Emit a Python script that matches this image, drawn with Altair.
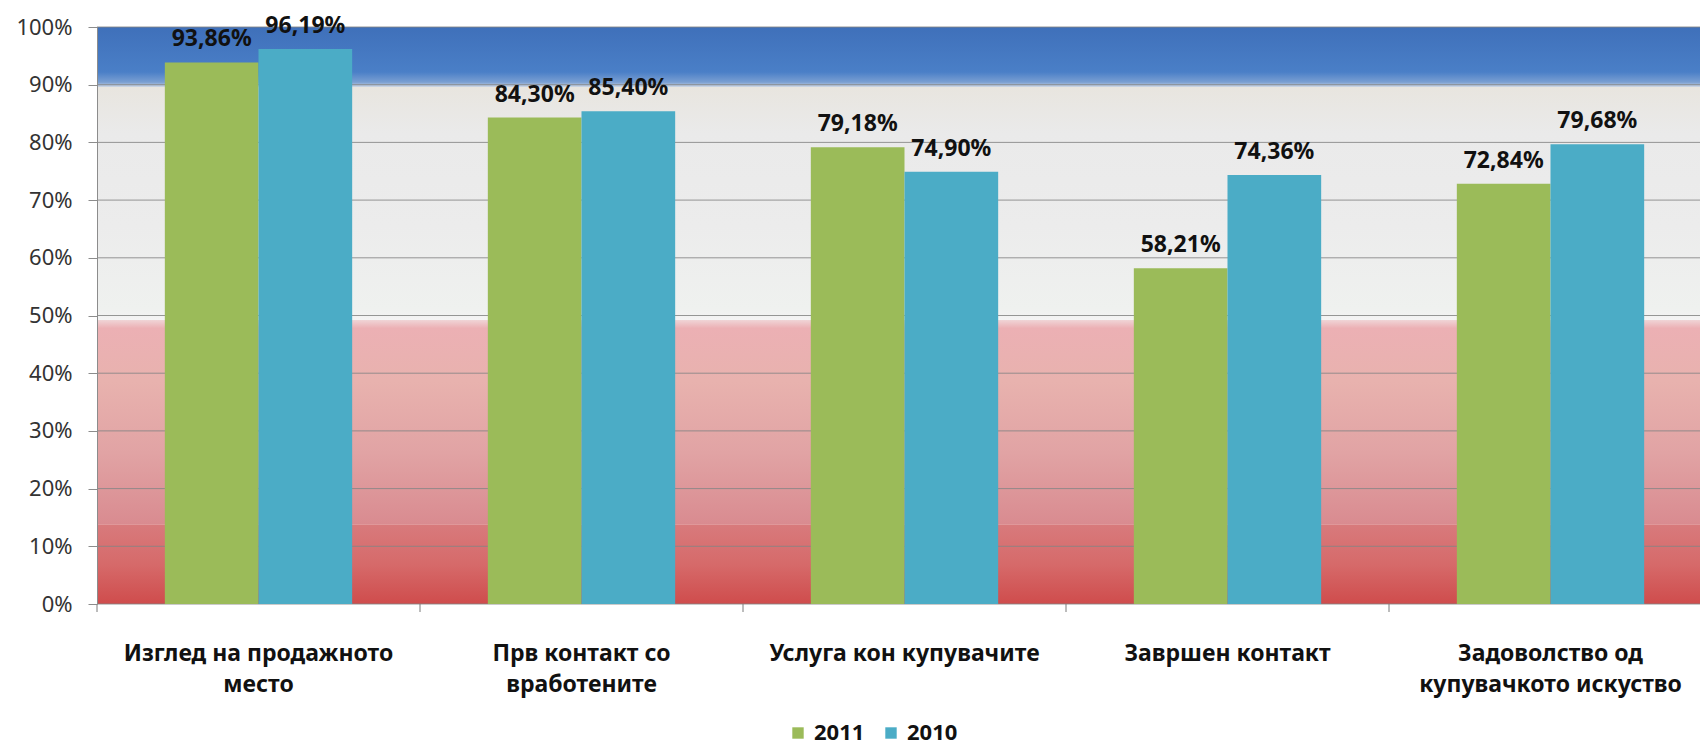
import altair as alt
import pandas as pd

# ---- data ----
categories = [
    "Изглед на продажното\nместо",
    "Прв контакт со\nвработените",
    "Услуга кон купувачите",
    "Завршен контакт",
    "Задоволство од\nкупувачкото искуство",
]
years = ["2011", "2010"]
values_2011 = [93.86, 84.30, 79.18, 58.21, 72.84]
values_2010 = [96.19, 85.40, 74.90, 74.36, 79.68]
y_ticks = list(range(0, 101, 10))
# background colour bands (in % of the value axis)
band_low = [0.0, 13.8, 49.2, 89.6]
band_high = [13.8, 49.2, 89.6, 100.0]

# ---- layout / style ----
W, H = 1603, 577
RANGE_W = 1615
PAD_INNER, PAD_OUTER = 0.42, 0.21
STEP = RANGE_W / 5
FONT = "Noto Sans"
GREEN, BLUE = "#9bbb59", "#4bacc6"

rows = []
for c, a, b in zip(categories, values_2011, values_2010):
    for yr, v in ((years[0], a), (years[1], b)):
        rows.append({"cat": c, "year": yr, "value": v,
                     "label": f"{v:.2f}".replace(".", ",") + "%"})
df = pd.DataFrame(rows)

yscale = alt.Scale(domain=[0, 100], nice=False, zero=True)
xscale = alt.Scale(range=[0, RANGE_W], paddingInner=PAD_INNER, paddingOuter=PAD_OUTER)
y_axis = alt.Axis(values=y_ticks, labelExpr="datum.value + '%'", title=None,
                  grid=False, domainColor="#8c8c8c", tickColor="#8c8c8c",
                  tickSize=9, labelFont=FONT, labelFontSize=22,
                  labelColor="#333333", labelPadding=16, zindex=1)


def grad(stops):
    return alt.LinearGradient(
        gradient="linear",
        stops=[alt.GradientStop(color=c, offset=o) for o, c in stops],
        x1=0, x2=0, y1=0, y2=1,
    )


band_gradients = [
    [(0, "#d87a7c"), (0.5, "#d66a6a"), (1, "#cf4c4c")],
    [(0, "#f0d4d6"), (0.04, "#ecb0b4"), (0.3, "#e8b2ae"), (0.65, "#e1a3a4"), (1, "#d98b90")],
    [(0, "#e8e5df"), (0.2, "#eaeaea"), (0.6, "#ececec"), (0.95, "#eff1ef"), (1, "#f4f4f4")],
    [(0, "#3f70ba"), (0.75, "#4a7fc7"), (0.92, "#7a9fd2"), (1, "#d0d8e4")],
]

layers = []
for lo, hi, g in zip(band_low, band_high, band_gradients):
    bdf = pd.DataFrame({"value": [lo], "hi": [hi]})
    layers.append(
        alt.Chart(bdf).mark_rect(color=grad(g)).encode(
            x=alt.value(0), x2=alt.value(W),
            y=alt.Y("value:Q", scale=yscale, axis=y_axis), y2="hi:Q",
        )
    )

grid = alt.Chart(pd.DataFrame({"value": y_ticks})).mark_rule(
    color="#858585", strokeWidth=1, opacity=0.85
).encode(
    y=alt.Y("value:Q", scale=yscale, axis=y_axis),
    x=alt.value(0), x2=alt.value(W),
)
layers.append(grid)

bars = alt.Chart(df).mark_bar().encode(
    x=alt.X("cat:N", sort=categories, scale=xscale, title=None,
            axis=alt.Axis(labelAngle=0, ticks=False, domain=False,
                          labelExpr="split(datum.label, '\\n')",
                          labelFont=FONT, labelFontSize=23, labelFontWeight="bold",
                          labelColor="#111111", labelPadding=38, labelLineHeight=31,
                          labelLimit=400)),
    xOffset=alt.XOffset("year:N", sort=years),
    y=alt.Y("value:Q", scale=yscale, axis=y_axis),
    color=alt.Color("year:N", sort=years,
                    scale=alt.Scale(domain=years, range=[GREEN, BLUE]),
                    legend=alt.Legend(title=None, orient="none", direction="horizontal",
                                      legendX=690, legendY=695, symbolType="square",
                                      symbolSize=130, symbolStrokeWidth=0,
                                      labelFont=FONT, labelFontSize=22,
                                      labelFontWeight="bold", labelColor="#111111",
                                      columnPadding=15, labelOffset=5, padding=0)),
)
layers.append(bars)

labels = alt.Chart(df).mark_text(
    baseline="alphabetic", align="center", dy=-16,
    font=FONT, fontSize=23, fontWeight="bold", color="#111111",
).encode(
    x=alt.X("cat:N", sort=categories),
    xOffset=alt.XOffset("year:N", sort=years),
    y=alt.Y("value:Q", scale=yscale, axis=y_axis),
    text="label:N",
)
layers.append(labels)

xticks = alt.Chart(pd.DataFrame({"cat": categories})).mark_rule(
    color="#7a7a7a", strokeWidth=1, xOffset=-PAD_OUTER * STEP
).encode(
    x=alt.X("cat:N", sort=categories, bandPosition=0),
    y=alt.value(H), y2=alt.value(H + 8),
)
layers.append(xticks)

chart = alt.layer(*layers).properties(
    width=W, height=H,
    autosize=alt.AutoSizeParams(type="none"),
    padding={"left": 97, "top": 27, "right": 0, "bottom": 146},
    background="white",
).configure_view(stroke=None)

chart.save("out.html", embed_options={"renderer": "svg", "actions": False})
